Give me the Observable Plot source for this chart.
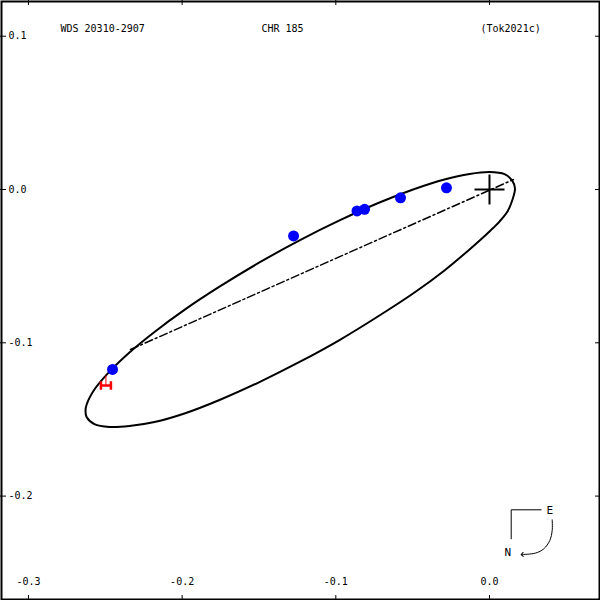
<!DOCTYPE html>
<html>
<head>
<meta charset="utf-8">
<script src="https://cdn.jsdelivr.net/npm/d3@7"></script>
<script src="https://cdn.jsdelivr.net/npm/@observablehq/plot@0.6"></script>
<style>
  html, body { margin: 0; padding: 0; background: white; }
</style>
</head>
<body>
<div id="chart"></div>
<script>
// Orbit (apparent ellipse), in arcsec
const orbitX = [-0.2629,-0.2622,-0.2571,-0.2473,-0.2343,-0.2180,-0.1985,-0.1757,-0.1497,-0.1236,-0.0976,-0.0716,-0.0488,-0.0293,-0.0130,0.0000,0.0098,0.0150,0.0166,0.0150,0.0117,0.0065,0.0007,-0.0130,-0.0293,-0.0488,-0.0716,-0.0976,-0.1236,-0.1497,-0.1757,-0.1985,-0.2180,-0.2343,-0.2473,-0.2571,-0.2622];
const orbitY = [-0.1444,-0.1404,-0.1305,-0.1188,-0.1063,-0.0929,-0.0785,-0.0634,-0.0476,-0.0332,-0.0202,-0.0085,0.0003,0.0065,0.0101,0.0114,0.0100,0.0055,0.0007,-0.0065,-0.0144,-0.0209,-0.0267,-0.0391,-0.0528,-0.0672,-0.0822,-0.0982,-0.1125,-0.1256,-0.1373,-0.1461,-0.1517,-0.1543,-0.1549,-0.1530,-0.1484];

// Line of nodes
const nodesX = [-0.2336, 0.0156];
const nodesY = [-0.1044, 0.0065];

// Primary star
const primaryX = [0];
const primaryY = [0];

// Blue measurements
const blueX = [-0.2453, -0.1275, -0.0862, -0.0813, -0.0579, -0.0280];
const blueY = [-0.1174, -0.0303, -0.0140, -0.0129, -0.0054, 0.0011];

// Red measurement and its predicted position on the orbit
const redX = [-0.2496];
const redY = [-0.1279];
const redPredX = [-0.2496];
const redPredY = [-0.1213];

// Axis ticks and labels
const xTicks = [-0.3, -0.2, -0.1, 0.0];
const xTickLabels = ["-0.3", "-0.2", "-0.1", "0.0"];
const yTicks = [0.1, 0.0, -0.1, -0.2];
const yTickLabels = ["0.1", "0.0", "-0.1", "-0.2"];

// Header texts
const titleLeft = "WDS 20310-2907";
const titleMid = "CHR 185";
const titleRight = "(Tok2021c)";

// Compass (E / N orientation) in data units
const compassLegX = [0.03364, 0.01412, 0.01412];
const compassLegY = [-0.20894, -0.20894, -0.22786];
const compassArcX = [0.04080, 0.04080, 0.03924, 0.03534, 0.02994, 0.02128];
const compassArcY = [-0.21546, -0.22244, -0.22896, -0.23437, -0.23718, -0.23809];
const compassLabels = ["E", "N"];
const compassLabelX = [0.03924, 0.01191];
const compassLabelY = [-0.20939, -0.23680];

const orbit = orbitX.map((x, i) => ({x, y: orbitY[i]}));
const nodes = nodesX.map((x, i) => ({x, y: nodesY[i]}));
const primary = primaryX.map((x, i) => ({x, y: primaryY[i]}));
const blue = blueX.map((x, i) => ({x, y: blueY[i]}));
const red = redX.map((x, i) => ({x, y: redY[i], px: redPredX[i], py: redPredY[i]}));
const leg = compassLegX.map((x, i) => ({x, y: compassLegY[i]}));
const arc = compassArcX.map((x, i) => ({x, y: compassArcY[i]}));
const compassText = compassLabels.map((t, i) => ({t, x: compassLabelX[i], y: compassLabelY[i]}));

const crossSymbol = {
  draw(ctx, size) {
    const r = Math.sqrt(size / Math.PI);
    ctx.moveTo(-r, 0); ctx.lineTo(r, 0);
    ctx.moveTo(0, -r); ctx.lineTo(0, r);
  }
};
const hSymbol = {
  draw(ctx, size) {
    const r = Math.sqrt(size / Math.PI);
    const h = r * 0.85;
    ctx.moveTo(-r, 0); ctx.lineTo(r, 0);
    ctx.moveTo(-r, -h); ctx.lineTo(-r, h);
    ctx.moveTo(r, -h); ctx.lineTo(r, h);
  }
};

const W = 600, H = 600;
const chart = Plot.plot({
  width: W,
  height: H,
  margin: 0,
  x: {domain: [-0.31821, 0.07224], axis: null},
  y: {domain: [-0.2681, 0.12329], axis: null},
  style: {fontFamily: "'DejaVu Sans Mono', monospace", fontSize: "10px", background: "white", color: "black"},
  marks: [
    Plot.frame({inset: 1, strokeWidth: 2, stroke: "black"}),
    // ticks (inward) on all four sides
    Plot.tickX(xTicks, {x: d => d, insetTop: H - 5, stroke: "black"}),
    Plot.tickX(xTicks, {x: d => d, insetBottom: H - 5, stroke: "black"}),
    Plot.tickY(yTicks, {y: d => d, insetRight: W - 6, stroke: "black"}),
    Plot.tickY(yTicks, {y: d => d, insetLeft: W - 5, stroke: "black"}),
    Plot.text(xTicks, {x: d => d, text: (d, i) => xTickLabels[i], frameAnchor: "bottom", dy: -16, fill: "black"}),
    Plot.text(yTicks, {y: d => d, text: (d, i) => yTickLabels[i], frameAnchor: "left", textAnchor: "start", dx: 8, fill: "black"}),
    // header
    Plot.text([titleLeft], {text: d => d, frameAnchor: "top-left", textAnchor: "start", dx: 60, dy: 24, fill: "black"}),
    Plot.text([titleMid], {text: d => d, frameAnchor: "top-left", textAnchor: "start", dx: 261, dy: 24, fill: "black"}),
    Plot.text([titleRight], {text: d => d, frameAnchor: "top-left", textAnchor: "start", dx: 480, dy: 24, fill: "black"}),
    // orbit
    Plot.line(orbit, {x: "x", y: "y", curve: "catmull-rom-closed", stroke: "black", strokeWidth: 2}),
    // line of nodes
    Plot.line(nodes, {x: "x", y: "y", stroke: "black", strokeWidth: 1.5, strokeDasharray: "8,3,2,3"}),
    // primary
    Plot.dot(primary, {x: "x", y: "y", symbol: crossSymbol, r: 15, fill: "none", stroke: "black", strokeWidth: 2}),
    // measurements
    Plot.link(red, {x1: "x", y1: "y", x2: "px", y2: "py", stroke: "red", strokeWidth: 1}),
    Plot.dot(red, {x: "x", y: "y", symbol: hSymbol, r: 5, fill: "none", stroke: "red", strokeWidth: 2.5}),
    Plot.dot(blue, {x: "x", y: "y", r: 5.5, fill: "blue", stroke: "none"}),
    // compass
    Plot.line(leg, {x: "x", y: "y", stroke: "black", strokeWidth: 1}),
    Plot.line(arc, {x: "x", y: "y", stroke: "black", strokeWidth: 1, curve: "catmull-rom", markerEnd: "arrow"}),
    Plot.text(compassText, {x: "x", y: "y", text: "t", fill: "black", fontSize: 11})
  ]
});
document.getElementById("chart").appendChild(chart);
</script>
</body>
</html>
